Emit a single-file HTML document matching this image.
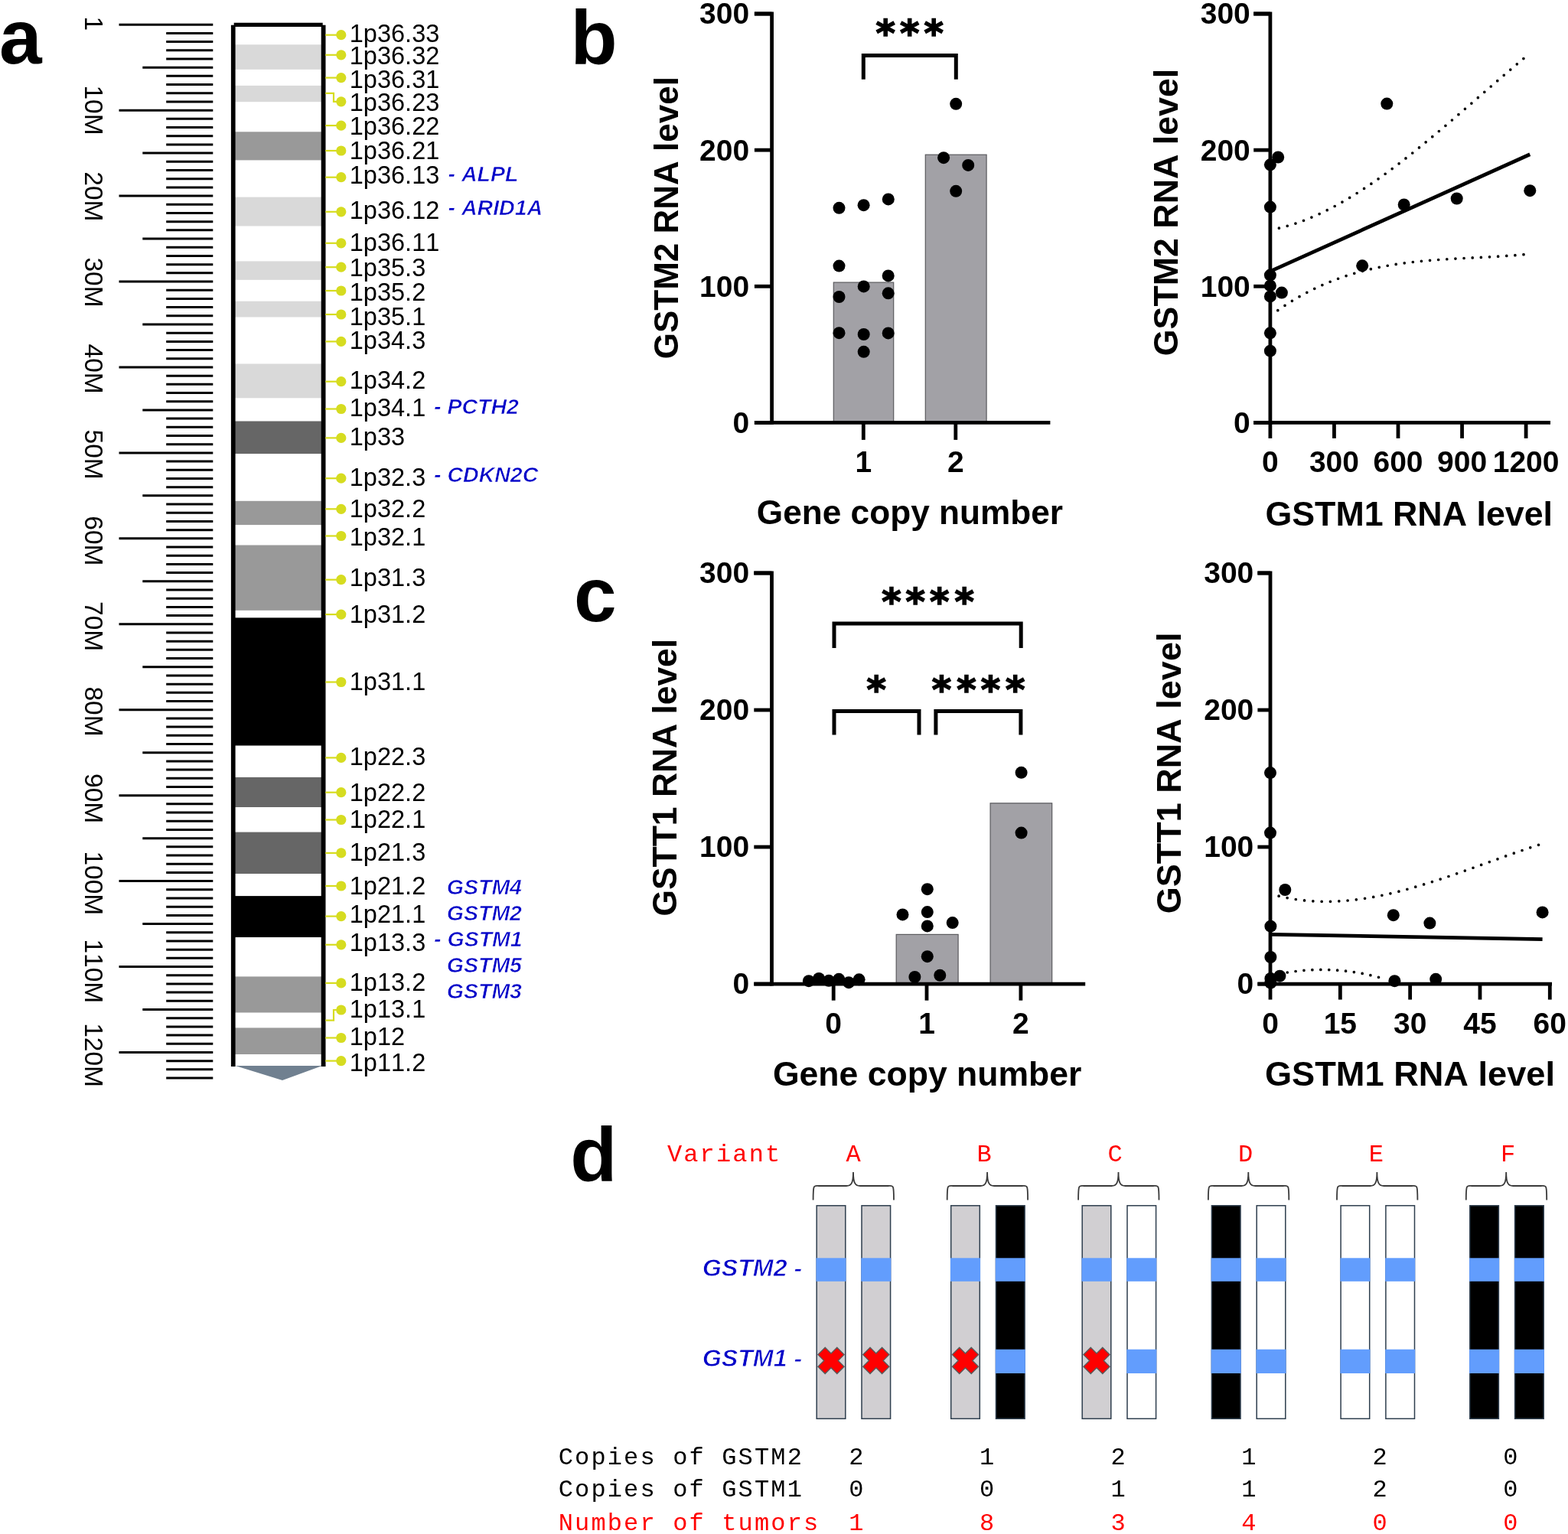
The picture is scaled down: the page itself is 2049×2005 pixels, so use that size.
<!DOCTYPE html>
<html><head><meta charset="utf-8"><title>Figure</title>
<style>html,body{margin:0;padding:0;background:#fff;} svg{display:block;} text{font-kerning:none;}</style></head>
<body><svg xmlns="http://www.w3.org/2000/svg" width="2049" height="2005" viewBox="0 0 2049 2005">
<rect width="2049" height="2005" fill="#fff"/>
<text x="-1.00" y="83.00" font-size="100" font-weight="bold" font-style="normal" text-anchor="start" fill="#000" font-family="'Liberation Sans', Arial, sans-serif" >a</text>
<line x1="155.50" y1="32.20" x2="278.30" y2="32.20" stroke="#000" stroke-width="3" stroke-linecap="butt" />
<line x1="217.20" y1="43.39" x2="278.30" y2="43.39" stroke="#000" stroke-width="3" stroke-linecap="butt" />
<line x1="217.20" y1="54.59" x2="278.30" y2="54.59" stroke="#000" stroke-width="3" stroke-linecap="butt" />
<line x1="217.20" y1="65.78" x2="278.30" y2="65.78" stroke="#000" stroke-width="3" stroke-linecap="butt" />
<line x1="217.20" y1="76.98" x2="278.30" y2="76.98" stroke="#000" stroke-width="3" stroke-linecap="butt" />
<line x1="186.30" y1="88.17" x2="278.30" y2="88.17" stroke="#000" stroke-width="3" stroke-linecap="butt" />
<line x1="217.20" y1="99.36" x2="278.30" y2="99.36" stroke="#000" stroke-width="3" stroke-linecap="butt" />
<line x1="217.20" y1="110.56" x2="278.30" y2="110.56" stroke="#000" stroke-width="3" stroke-linecap="butt" />
<line x1="217.20" y1="121.75" x2="278.30" y2="121.75" stroke="#000" stroke-width="3" stroke-linecap="butt" />
<line x1="217.20" y1="132.95" x2="278.30" y2="132.95" stroke="#000" stroke-width="3" stroke-linecap="butt" />
<line x1="155.50" y1="144.14" x2="278.30" y2="144.14" stroke="#000" stroke-width="3" stroke-linecap="butt" />
<line x1="217.20" y1="155.33" x2="278.30" y2="155.33" stroke="#000" stroke-width="3" stroke-linecap="butt" />
<line x1="217.20" y1="166.53" x2="278.30" y2="166.53" stroke="#000" stroke-width="3" stroke-linecap="butt" />
<line x1="217.20" y1="177.72" x2="278.30" y2="177.72" stroke="#000" stroke-width="3" stroke-linecap="butt" />
<line x1="217.20" y1="188.92" x2="278.30" y2="188.92" stroke="#000" stroke-width="3" stroke-linecap="butt" />
<line x1="186.30" y1="200.11" x2="278.30" y2="200.11" stroke="#000" stroke-width="3" stroke-linecap="butt" />
<line x1="217.20" y1="211.30" x2="278.30" y2="211.30" stroke="#000" stroke-width="3" stroke-linecap="butt" />
<line x1="217.20" y1="222.50" x2="278.30" y2="222.50" stroke="#000" stroke-width="3" stroke-linecap="butt" />
<line x1="217.20" y1="233.69" x2="278.30" y2="233.69" stroke="#000" stroke-width="3" stroke-linecap="butt" />
<line x1="217.20" y1="244.89" x2="278.30" y2="244.89" stroke="#000" stroke-width="3" stroke-linecap="butt" />
<line x1="155.50" y1="256.08" x2="278.30" y2="256.08" stroke="#000" stroke-width="3" stroke-linecap="butt" />
<line x1="217.20" y1="267.27" x2="278.30" y2="267.27" stroke="#000" stroke-width="3" stroke-linecap="butt" />
<line x1="217.20" y1="278.47" x2="278.30" y2="278.47" stroke="#000" stroke-width="3" stroke-linecap="butt" />
<line x1="217.20" y1="289.66" x2="278.30" y2="289.66" stroke="#000" stroke-width="3" stroke-linecap="butt" />
<line x1="217.20" y1="300.86" x2="278.30" y2="300.86" stroke="#000" stroke-width="3" stroke-linecap="butt" />
<line x1="186.30" y1="312.05" x2="278.30" y2="312.05" stroke="#000" stroke-width="3" stroke-linecap="butt" />
<line x1="217.20" y1="323.24" x2="278.30" y2="323.24" stroke="#000" stroke-width="3" stroke-linecap="butt" />
<line x1="217.20" y1="334.44" x2="278.30" y2="334.44" stroke="#000" stroke-width="3" stroke-linecap="butt" />
<line x1="217.20" y1="345.63" x2="278.30" y2="345.63" stroke="#000" stroke-width="3" stroke-linecap="butt" />
<line x1="217.20" y1="356.83" x2="278.30" y2="356.83" stroke="#000" stroke-width="3" stroke-linecap="butt" />
<line x1="155.50" y1="368.02" x2="278.30" y2="368.02" stroke="#000" stroke-width="3" stroke-linecap="butt" />
<line x1="217.20" y1="379.21" x2="278.30" y2="379.21" stroke="#000" stroke-width="3" stroke-linecap="butt" />
<line x1="217.20" y1="390.41" x2="278.30" y2="390.41" stroke="#000" stroke-width="3" stroke-linecap="butt" />
<line x1="217.20" y1="401.60" x2="278.30" y2="401.60" stroke="#000" stroke-width="3" stroke-linecap="butt" />
<line x1="217.20" y1="412.80" x2="278.30" y2="412.80" stroke="#000" stroke-width="3" stroke-linecap="butt" />
<line x1="186.30" y1="423.99" x2="278.30" y2="423.99" stroke="#000" stroke-width="3" stroke-linecap="butt" />
<line x1="217.20" y1="435.18" x2="278.30" y2="435.18" stroke="#000" stroke-width="3" stroke-linecap="butt" />
<line x1="217.20" y1="446.38" x2="278.30" y2="446.38" stroke="#000" stroke-width="3" stroke-linecap="butt" />
<line x1="217.20" y1="457.57" x2="278.30" y2="457.57" stroke="#000" stroke-width="3" stroke-linecap="butt" />
<line x1="217.20" y1="468.77" x2="278.30" y2="468.77" stroke="#000" stroke-width="3" stroke-linecap="butt" />
<line x1="155.50" y1="479.96" x2="278.30" y2="479.96" stroke="#000" stroke-width="3" stroke-linecap="butt" />
<line x1="217.20" y1="491.15" x2="278.30" y2="491.15" stroke="#000" stroke-width="3" stroke-linecap="butt" />
<line x1="217.20" y1="502.35" x2="278.30" y2="502.35" stroke="#000" stroke-width="3" stroke-linecap="butt" />
<line x1="217.20" y1="513.54" x2="278.30" y2="513.54" stroke="#000" stroke-width="3" stroke-linecap="butt" />
<line x1="217.20" y1="524.74" x2="278.30" y2="524.74" stroke="#000" stroke-width="3" stroke-linecap="butt" />
<line x1="186.30" y1="535.93" x2="278.30" y2="535.93" stroke="#000" stroke-width="3" stroke-linecap="butt" />
<line x1="217.20" y1="547.12" x2="278.30" y2="547.12" stroke="#000" stroke-width="3" stroke-linecap="butt" />
<line x1="217.20" y1="558.32" x2="278.30" y2="558.32" stroke="#000" stroke-width="3" stroke-linecap="butt" />
<line x1="217.20" y1="569.51" x2="278.30" y2="569.51" stroke="#000" stroke-width="3" stroke-linecap="butt" />
<line x1="217.20" y1="580.71" x2="278.30" y2="580.71" stroke="#000" stroke-width="3" stroke-linecap="butt" />
<line x1="155.50" y1="591.90" x2="278.30" y2="591.90" stroke="#000" stroke-width="3" stroke-linecap="butt" />
<line x1="217.20" y1="603.09" x2="278.30" y2="603.09" stroke="#000" stroke-width="3" stroke-linecap="butt" />
<line x1="217.20" y1="614.29" x2="278.30" y2="614.29" stroke="#000" stroke-width="3" stroke-linecap="butt" />
<line x1="217.20" y1="625.48" x2="278.30" y2="625.48" stroke="#000" stroke-width="3" stroke-linecap="butt" />
<line x1="217.20" y1="636.68" x2="278.30" y2="636.68" stroke="#000" stroke-width="3" stroke-linecap="butt" />
<line x1="186.30" y1="647.87" x2="278.30" y2="647.87" stroke="#000" stroke-width="3" stroke-linecap="butt" />
<line x1="217.20" y1="659.06" x2="278.30" y2="659.06" stroke="#000" stroke-width="3" stroke-linecap="butt" />
<line x1="217.20" y1="670.26" x2="278.30" y2="670.26" stroke="#000" stroke-width="3" stroke-linecap="butt" />
<line x1="217.20" y1="681.45" x2="278.30" y2="681.45" stroke="#000" stroke-width="3" stroke-linecap="butt" />
<line x1="217.20" y1="692.65" x2="278.30" y2="692.65" stroke="#000" stroke-width="3" stroke-linecap="butt" />
<line x1="155.50" y1="703.84" x2="278.30" y2="703.84" stroke="#000" stroke-width="3" stroke-linecap="butt" />
<line x1="217.20" y1="715.03" x2="278.30" y2="715.03" stroke="#000" stroke-width="3" stroke-linecap="butt" />
<line x1="217.20" y1="726.23" x2="278.30" y2="726.23" stroke="#000" stroke-width="3" stroke-linecap="butt" />
<line x1="217.20" y1="737.42" x2="278.30" y2="737.42" stroke="#000" stroke-width="3" stroke-linecap="butt" />
<line x1="217.20" y1="748.62" x2="278.30" y2="748.62" stroke="#000" stroke-width="3" stroke-linecap="butt" />
<line x1="186.30" y1="759.81" x2="278.30" y2="759.81" stroke="#000" stroke-width="3" stroke-linecap="butt" />
<line x1="217.20" y1="771.00" x2="278.30" y2="771.00" stroke="#000" stroke-width="3" stroke-linecap="butt" />
<line x1="217.20" y1="782.20" x2="278.30" y2="782.20" stroke="#000" stroke-width="3" stroke-linecap="butt" />
<line x1="217.20" y1="793.39" x2="278.30" y2="793.39" stroke="#000" stroke-width="3" stroke-linecap="butt" />
<line x1="217.20" y1="804.59" x2="278.30" y2="804.59" stroke="#000" stroke-width="3" stroke-linecap="butt" />
<line x1="155.50" y1="815.78" x2="278.30" y2="815.78" stroke="#000" stroke-width="3" stroke-linecap="butt" />
<line x1="217.20" y1="826.97" x2="278.30" y2="826.97" stroke="#000" stroke-width="3" stroke-linecap="butt" />
<line x1="217.20" y1="838.17" x2="278.30" y2="838.17" stroke="#000" stroke-width="3" stroke-linecap="butt" />
<line x1="217.20" y1="849.36" x2="278.30" y2="849.36" stroke="#000" stroke-width="3" stroke-linecap="butt" />
<line x1="217.20" y1="860.56" x2="278.30" y2="860.56" stroke="#000" stroke-width="3" stroke-linecap="butt" />
<line x1="186.30" y1="871.75" x2="278.30" y2="871.75" stroke="#000" stroke-width="3" stroke-linecap="butt" />
<line x1="217.20" y1="882.94" x2="278.30" y2="882.94" stroke="#000" stroke-width="3" stroke-linecap="butt" />
<line x1="217.20" y1="894.14" x2="278.30" y2="894.14" stroke="#000" stroke-width="3" stroke-linecap="butt" />
<line x1="217.20" y1="905.33" x2="278.30" y2="905.33" stroke="#000" stroke-width="3" stroke-linecap="butt" />
<line x1="217.20" y1="916.53" x2="278.30" y2="916.53" stroke="#000" stroke-width="3" stroke-linecap="butt" />
<line x1="155.50" y1="927.72" x2="278.30" y2="927.72" stroke="#000" stroke-width="3" stroke-linecap="butt" />
<line x1="217.20" y1="938.91" x2="278.30" y2="938.91" stroke="#000" stroke-width="3" stroke-linecap="butt" />
<line x1="217.20" y1="950.11" x2="278.30" y2="950.11" stroke="#000" stroke-width="3" stroke-linecap="butt" />
<line x1="217.20" y1="961.30" x2="278.30" y2="961.30" stroke="#000" stroke-width="3" stroke-linecap="butt" />
<line x1="217.20" y1="972.50" x2="278.30" y2="972.50" stroke="#000" stroke-width="3" stroke-linecap="butt" />
<line x1="186.30" y1="983.69" x2="278.30" y2="983.69" stroke="#000" stroke-width="3" stroke-linecap="butt" />
<line x1="217.20" y1="994.88" x2="278.30" y2="994.88" stroke="#000" stroke-width="3" stroke-linecap="butt" />
<line x1="217.20" y1="1006.08" x2="278.30" y2="1006.08" stroke="#000" stroke-width="3" stroke-linecap="butt" />
<line x1="217.20" y1="1017.27" x2="278.30" y2="1017.27" stroke="#000" stroke-width="3" stroke-linecap="butt" />
<line x1="217.20" y1="1028.47" x2="278.30" y2="1028.47" stroke="#000" stroke-width="3" stroke-linecap="butt" />
<line x1="155.50" y1="1039.66" x2="278.30" y2="1039.66" stroke="#000" stroke-width="3" stroke-linecap="butt" />
<line x1="217.20" y1="1050.85" x2="278.30" y2="1050.85" stroke="#000" stroke-width="3" stroke-linecap="butt" />
<line x1="217.20" y1="1062.05" x2="278.30" y2="1062.05" stroke="#000" stroke-width="3" stroke-linecap="butt" />
<line x1="217.20" y1="1073.24" x2="278.30" y2="1073.24" stroke="#000" stroke-width="3" stroke-linecap="butt" />
<line x1="217.20" y1="1084.44" x2="278.30" y2="1084.44" stroke="#000" stroke-width="3" stroke-linecap="butt" />
<line x1="186.30" y1="1095.63" x2="278.30" y2="1095.63" stroke="#000" stroke-width="3" stroke-linecap="butt" />
<line x1="217.20" y1="1106.82" x2="278.30" y2="1106.82" stroke="#000" stroke-width="3" stroke-linecap="butt" />
<line x1="217.20" y1="1118.02" x2="278.30" y2="1118.02" stroke="#000" stroke-width="3" stroke-linecap="butt" />
<line x1="217.20" y1="1129.21" x2="278.30" y2="1129.21" stroke="#000" stroke-width="3" stroke-linecap="butt" />
<line x1="217.20" y1="1140.41" x2="278.30" y2="1140.41" stroke="#000" stroke-width="3" stroke-linecap="butt" />
<line x1="155.50" y1="1151.60" x2="278.30" y2="1151.60" stroke="#000" stroke-width="3" stroke-linecap="butt" />
<line x1="217.20" y1="1162.79" x2="278.30" y2="1162.79" stroke="#000" stroke-width="3" stroke-linecap="butt" />
<line x1="217.20" y1="1173.99" x2="278.30" y2="1173.99" stroke="#000" stroke-width="3" stroke-linecap="butt" />
<line x1="217.20" y1="1185.18" x2="278.30" y2="1185.18" stroke="#000" stroke-width="3" stroke-linecap="butt" />
<line x1="217.20" y1="1196.38" x2="278.30" y2="1196.38" stroke="#000" stroke-width="3" stroke-linecap="butt" />
<line x1="186.30" y1="1207.57" x2="278.30" y2="1207.57" stroke="#000" stroke-width="3" stroke-linecap="butt" />
<line x1="217.20" y1="1218.76" x2="278.30" y2="1218.76" stroke="#000" stroke-width="3" stroke-linecap="butt" />
<line x1="217.20" y1="1229.96" x2="278.30" y2="1229.96" stroke="#000" stroke-width="3" stroke-linecap="butt" />
<line x1="217.20" y1="1241.15" x2="278.30" y2="1241.15" stroke="#000" stroke-width="3" stroke-linecap="butt" />
<line x1="217.20" y1="1252.35" x2="278.30" y2="1252.35" stroke="#000" stroke-width="3" stroke-linecap="butt" />
<line x1="155.50" y1="1263.54" x2="278.30" y2="1263.54" stroke="#000" stroke-width="3" stroke-linecap="butt" />
<line x1="217.20" y1="1274.73" x2="278.30" y2="1274.73" stroke="#000" stroke-width="3" stroke-linecap="butt" />
<line x1="217.20" y1="1285.93" x2="278.30" y2="1285.93" stroke="#000" stroke-width="3" stroke-linecap="butt" />
<line x1="217.20" y1="1297.12" x2="278.30" y2="1297.12" stroke="#000" stroke-width="3" stroke-linecap="butt" />
<line x1="217.20" y1="1308.32" x2="278.30" y2="1308.32" stroke="#000" stroke-width="3" stroke-linecap="butt" />
<line x1="186.30" y1="1319.51" x2="278.30" y2="1319.51" stroke="#000" stroke-width="3" stroke-linecap="butt" />
<line x1="217.20" y1="1330.70" x2="278.30" y2="1330.70" stroke="#000" stroke-width="3" stroke-linecap="butt" />
<line x1="217.20" y1="1341.90" x2="278.30" y2="1341.90" stroke="#000" stroke-width="3" stroke-linecap="butt" />
<line x1="217.20" y1="1353.09" x2="278.30" y2="1353.09" stroke="#000" stroke-width="3" stroke-linecap="butt" />
<line x1="217.20" y1="1364.29" x2="278.30" y2="1364.29" stroke="#000" stroke-width="3" stroke-linecap="butt" />
<line x1="155.50" y1="1375.48" x2="278.30" y2="1375.48" stroke="#000" stroke-width="3" stroke-linecap="butt" />
<line x1="217.20" y1="1386.67" x2="278.30" y2="1386.67" stroke="#000" stroke-width="3" stroke-linecap="butt" />
<line x1="217.20" y1="1397.87" x2="278.30" y2="1397.87" stroke="#000" stroke-width="3" stroke-linecap="butt" />
<line x1="217.20" y1="1409.06" x2="278.30" y2="1409.06" stroke="#000" stroke-width="3" stroke-linecap="butt" />
<text transform="translate(110.50,30.80) rotate(90)" font-size="33.5" font-weight="normal" text-anchor="middle" fill="#000" font-family="'Liberation Sans', Arial, sans-serif">1</text>
<text transform="translate(110.50,143.99) rotate(90)" font-size="33.5" font-weight="normal" text-anchor="middle" fill="#000" font-family="'Liberation Sans', Arial, sans-serif">10M</text>
<text transform="translate(110.50,256.88) rotate(90)" font-size="33.5" font-weight="normal" text-anchor="middle" fill="#000" font-family="'Liberation Sans', Arial, sans-serif">20M</text>
<text transform="translate(110.50,369.02) rotate(90)" font-size="33.5" font-weight="normal" text-anchor="middle" fill="#000" font-family="'Liberation Sans', Arial, sans-serif">30M</text>
<text transform="translate(110.50,482.16) rotate(90)" font-size="33.5" font-weight="normal" text-anchor="middle" fill="#000" font-family="'Liberation Sans', Arial, sans-serif">40M</text>
<text transform="translate(110.50,594.10) rotate(90)" font-size="33.5" font-weight="normal" text-anchor="middle" fill="#000" font-family="'Liberation Sans', Arial, sans-serif">50M</text>
<text transform="translate(110.50,706.84) rotate(90)" font-size="33.5" font-weight="normal" text-anchor="middle" fill="#000" font-family="'Liberation Sans', Arial, sans-serif">60M</text>
<text transform="translate(110.50,818.68) rotate(90)" font-size="33.5" font-weight="normal" text-anchor="middle" fill="#000" font-family="'Liberation Sans', Arial, sans-serif">70M</text>
<text transform="translate(110.50,930.02) rotate(90)" font-size="33.5" font-weight="normal" text-anchor="middle" fill="#000" font-family="'Liberation Sans', Arial, sans-serif">80M</text>
<text transform="translate(110.50,1043.66) rotate(90)" font-size="33.5" font-weight="normal" text-anchor="middle" fill="#000" font-family="'Liberation Sans', Arial, sans-serif">90M</text>
<text transform="translate(110.50,1154.35) rotate(90)" font-size="33.5" font-weight="normal" text-anchor="middle" fill="#000" font-family="'Liberation Sans', Arial, sans-serif">100M</text>
<text transform="translate(110.50,1269.29) rotate(90)" font-size="33.5" font-weight="normal" text-anchor="middle" fill="#000" font-family="'Liberation Sans', Arial, sans-serif">110M</text>
<text transform="translate(110.50,1379.08) rotate(90)" font-size="33.5" font-weight="normal" text-anchor="middle" fill="#000" font-family="'Liberation Sans', Arial, sans-serif">120M</text>
<rect x="305.00" y="35.00" width="117.60" height="23.31" fill="#ffffff" stroke="none" stroke-width="0" />
<rect x="305.00" y="58.30" width="117.60" height="32.61" fill="#d9d9d9" stroke="none" stroke-width="0" />
<rect x="305.00" y="90.90" width="117.60" height="21.01" fill="#ffffff" stroke="none" stroke-width="0" />
<rect x="305.00" y="111.90" width="117.60" height="21.51" fill="#d9d9d9" stroke="none" stroke-width="0" />
<rect x="305.00" y="133.40" width="117.60" height="38.91" fill="#ffffff" stroke="none" stroke-width="0" />
<rect x="305.00" y="172.30" width="117.60" height="37.31" fill="#999999" stroke="none" stroke-width="0" />
<rect x="305.00" y="209.60" width="117.60" height="48.01" fill="#ffffff" stroke="none" stroke-width="0" />
<rect x="305.00" y="257.60" width="117.60" height="38.11" fill="#d9d9d9" stroke="none" stroke-width="0" />
<rect x="305.00" y="295.70" width="117.60" height="45.71" fill="#ffffff" stroke="none" stroke-width="0" />
<rect x="305.00" y="341.40" width="117.60" height="24.51" fill="#d9d9d9" stroke="none" stroke-width="0" />
<rect x="305.00" y="365.90" width="117.60" height="27.81" fill="#ffffff" stroke="none" stroke-width="0" />
<rect x="305.00" y="393.70" width="117.60" height="21.01" fill="#d9d9d9" stroke="none" stroke-width="0" />
<rect x="305.00" y="414.70" width="117.60" height="60.81" fill="#ffffff" stroke="none" stroke-width="0" />
<rect x="305.00" y="475.50" width="117.60" height="45.01" fill="#d9d9d9" stroke="none" stroke-width="0" />
<rect x="305.00" y="520.50" width="117.60" height="30.01" fill="#ffffff" stroke="none" stroke-width="0" />
<rect x="305.00" y="550.50" width="117.60" height="42.81" fill="#666666" stroke="none" stroke-width="0" />
<rect x="305.00" y="593.30" width="117.60" height="61.51" fill="#ffffff" stroke="none" stroke-width="0" />
<rect x="305.00" y="654.80" width="117.60" height="31.51" fill="#999999" stroke="none" stroke-width="0" />
<rect x="305.00" y="686.30" width="117.60" height="26.21" fill="#ffffff" stroke="none" stroke-width="0" />
<rect x="305.00" y="712.50" width="117.60" height="85.41" fill="#999999" stroke="none" stroke-width="0" />
<rect x="305.00" y="797.90" width="117.60" height="9.51" fill="#ffffff" stroke="none" stroke-width="0" />
<rect x="305.00" y="807.40" width="117.60" height="167.31" fill="#000000" stroke="none" stroke-width="0" />
<rect x="305.00" y="974.70" width="117.60" height="41.21" fill="#ffffff" stroke="none" stroke-width="0" />
<rect x="305.00" y="1015.90" width="117.60" height="39.11" fill="#666666" stroke="none" stroke-width="0" />
<rect x="305.00" y="1055.00" width="117.60" height="32.61" fill="#ffffff" stroke="none" stroke-width="0" />
<rect x="305.00" y="1087.60" width="117.60" height="54.41" fill="#666666" stroke="none" stroke-width="0" />
<rect x="305.00" y="1142.00" width="117.60" height="29.11" fill="#ffffff" stroke="none" stroke-width="0" />
<rect x="305.00" y="1171.10" width="117.60" height="54.11" fill="#000000" stroke="none" stroke-width="0" />
<rect x="305.00" y="1225.20" width="117.60" height="51.21" fill="#ffffff" stroke="none" stroke-width="0" />
<rect x="305.00" y="1276.40" width="117.60" height="47.31" fill="#999999" stroke="none" stroke-width="0" />
<rect x="305.00" y="1323.70" width="117.60" height="19.71" fill="#ffffff" stroke="none" stroke-width="0" />
<rect x="305.00" y="1343.40" width="117.60" height="34.61" fill="#999999" stroke="none" stroke-width="0" />
<rect x="305.00" y="1378.00" width="117.60" height="15.01" fill="#ffffff" stroke="none" stroke-width="0" />
<polygon points="307.6,1393 421.0,1393 369,1412" fill="#708090"/>
<line x1="304.75" y1="32.70" x2="304.75" y2="1394.00" stroke="#000" stroke-width="5.7" stroke-linecap="butt" />
<line x1="422.60" y1="32.70" x2="422.60" y2="1394.00" stroke="#000" stroke-width="5.8" stroke-linecap="butt" />
<line x1="305.70" y1="32.40" x2="421.70" y2="32.40" stroke="#000" stroke-width="5.4" stroke-linecap="butt" />
<line x1="425.30" y1="45.70" x2="445.80" y2="45.70" stroke="#d6dc20" stroke-width="2.2" stroke-linecap="butt" />
<circle cx="445.80" cy="45.70" r="6.6" fill="#d6dc20"/>
<text x="456.80" y="54.70" font-size="32.5" font-weight="normal" font-style="normal" text-anchor="start" fill="#000" font-family="'Liberation Sans', Arial, sans-serif" >1p36.33</text>
<line x1="425.30" y1="71.80" x2="445.80" y2="71.80" stroke="#d6dc20" stroke-width="2.2" stroke-linecap="butt" />
<circle cx="445.80" cy="71.80" r="6.6" fill="#d6dc20"/>
<text x="456.80" y="83.80" font-size="32.5" font-weight="normal" font-style="normal" text-anchor="start" fill="#000" font-family="'Liberation Sans', Arial, sans-serif" >1p36.32</text>
<line x1="425.30" y1="101.60" x2="445.80" y2="101.60" stroke="#d6dc20" stroke-width="2.2" stroke-linecap="butt" />
<circle cx="445.80" cy="101.60" r="6.6" fill="#d6dc20"/>
<text x="456.80" y="115.00" font-size="32.5" font-weight="normal" font-style="normal" text-anchor="start" fill="#000" font-family="'Liberation Sans', Arial, sans-serif" >1p36.31</text>
<path d="M425.3,121.8 L436,121.8 L436,132.8 L445.8,132.8" stroke="#d6dc20" stroke-width="2.2" fill="none" />
<circle cx="445.80" cy="132.80" r="6.6" fill="#d6dc20"/>
<text x="456.80" y="144.80" font-size="32.5" font-weight="normal" font-style="normal" text-anchor="start" fill="#000" font-family="'Liberation Sans', Arial, sans-serif" >1p36.23</text>
<line x1="425.30" y1="164.10" x2="445.80" y2="164.10" stroke="#d6dc20" stroke-width="2.2" stroke-linecap="butt" />
<circle cx="445.80" cy="164.10" r="6.6" fill="#d6dc20"/>
<text x="456.80" y="176.30" font-size="32.5" font-weight="normal" font-style="normal" text-anchor="start" fill="#000" font-family="'Liberation Sans', Arial, sans-serif" >1p36.22</text>
<line x1="425.30" y1="197.00" x2="445.80" y2="197.00" stroke="#d6dc20" stroke-width="2.2" stroke-linecap="butt" />
<circle cx="445.80" cy="197.00" r="6.6" fill="#d6dc20"/>
<text x="456.80" y="207.90" font-size="32.5" font-weight="normal" font-style="normal" text-anchor="start" fill="#000" font-family="'Liberation Sans', Arial, sans-serif" >1p36.21</text>
<line x1="425.30" y1="231.70" x2="445.80" y2="231.70" stroke="#d6dc20" stroke-width="2.2" stroke-linecap="butt" />
<circle cx="445.80" cy="231.70" r="6.6" fill="#d6dc20"/>
<text x="456.80" y="240.40" font-size="32.5" font-weight="normal" font-style="normal" text-anchor="start" fill="#000" font-family="'Liberation Sans', Arial, sans-serif" >1p36.13</text>
<line x1="425.30" y1="276.80" x2="445.80" y2="276.80" stroke="#d6dc20" stroke-width="2.2" stroke-linecap="butt" />
<circle cx="445.80" cy="276.80" r="6.6" fill="#d6dc20"/>
<text x="456.80" y="285.70" font-size="32.5" font-weight="normal" font-style="normal" text-anchor="start" fill="#000" font-family="'Liberation Sans', Arial, sans-serif" >1p36.12</text>
<line x1="425.30" y1="317.80" x2="445.80" y2="317.80" stroke="#d6dc20" stroke-width="2.2" stroke-linecap="butt" />
<circle cx="445.80" cy="317.80" r="6.6" fill="#d6dc20"/>
<text x="456.80" y="328.10" font-size="32.5" font-weight="normal" font-style="normal" text-anchor="start" fill="#000" font-family="'Liberation Sans', Arial, sans-serif" >1p36.11</text>
<line x1="425.30" y1="349.20" x2="445.80" y2="349.20" stroke="#d6dc20" stroke-width="2.2" stroke-linecap="butt" />
<circle cx="445.80" cy="349.20" r="6.6" fill="#d6dc20"/>
<text x="456.80" y="361.10" font-size="32.5" font-weight="normal" font-style="normal" text-anchor="start" fill="#000" font-family="'Liberation Sans', Arial, sans-serif" >1p35.3</text>
<line x1="425.30" y1="380.00" x2="445.80" y2="380.00" stroke="#d6dc20" stroke-width="2.2" stroke-linecap="butt" />
<circle cx="445.80" cy="380.00" r="6.6" fill="#d6dc20"/>
<text x="456.80" y="392.50" font-size="32.5" font-weight="normal" font-style="normal" text-anchor="start" fill="#000" font-family="'Liberation Sans', Arial, sans-serif" >1p35.2</text>
<line x1="425.30" y1="411.00" x2="445.80" y2="411.00" stroke="#d6dc20" stroke-width="2.2" stroke-linecap="butt" />
<circle cx="445.80" cy="411.00" r="6.6" fill="#d6dc20"/>
<text x="456.80" y="424.50" font-size="32.5" font-weight="normal" font-style="normal" text-anchor="start" fill="#000" font-family="'Liberation Sans', Arial, sans-serif" >1p35.1</text>
<line x1="425.30" y1="446.40" x2="445.80" y2="446.40" stroke="#d6dc20" stroke-width="2.2" stroke-linecap="butt" />
<circle cx="445.80" cy="446.40" r="6.6" fill="#d6dc20"/>
<text x="456.80" y="456.30" font-size="32.5" font-weight="normal" font-style="normal" text-anchor="start" fill="#000" font-family="'Liberation Sans', Arial, sans-serif" >1p34.3</text>
<line x1="425.30" y1="498.70" x2="445.80" y2="498.70" stroke="#d6dc20" stroke-width="2.2" stroke-linecap="butt" />
<circle cx="445.80" cy="498.70" r="6.6" fill="#d6dc20"/>
<text x="456.80" y="508.20" font-size="32.5" font-weight="normal" font-style="normal" text-anchor="start" fill="#000" font-family="'Liberation Sans', Arial, sans-serif" >1p34.2</text>
<line x1="425.30" y1="534.50" x2="445.80" y2="534.50" stroke="#d6dc20" stroke-width="2.2" stroke-linecap="butt" />
<circle cx="445.80" cy="534.50" r="6.6" fill="#d6dc20"/>
<text x="456.80" y="544.40" font-size="32.5" font-weight="normal" font-style="normal" text-anchor="start" fill="#000" font-family="'Liberation Sans', Arial, sans-serif" >1p34.1</text>
<line x1="425.30" y1="572.40" x2="445.80" y2="572.40" stroke="#d6dc20" stroke-width="2.2" stroke-linecap="butt" />
<circle cx="445.80" cy="572.40" r="6.6" fill="#d6dc20"/>
<text x="456.80" y="582.00" font-size="32.5" font-weight="normal" font-style="normal" text-anchor="start" fill="#000" font-family="'Liberation Sans', Arial, sans-serif" >1p33</text>
<line x1="425.30" y1="625.20" x2="445.80" y2="625.20" stroke="#d6dc20" stroke-width="2.2" stroke-linecap="butt" />
<circle cx="445.80" cy="625.20" r="6.6" fill="#d6dc20"/>
<text x="456.80" y="635.10" font-size="32.5" font-weight="normal" font-style="normal" text-anchor="start" fill="#000" font-family="'Liberation Sans', Arial, sans-serif" >1p32.3</text>
<line x1="425.30" y1="665.30" x2="445.80" y2="665.30" stroke="#d6dc20" stroke-width="2.2" stroke-linecap="butt" />
<circle cx="445.80" cy="665.30" r="6.6" fill="#d6dc20"/>
<text x="456.80" y="675.80" font-size="32.5" font-weight="normal" font-style="normal" text-anchor="start" fill="#000" font-family="'Liberation Sans', Arial, sans-serif" >1p32.2</text>
<line x1="425.30" y1="700.50" x2="445.80" y2="700.50" stroke="#d6dc20" stroke-width="2.2" stroke-linecap="butt" />
<circle cx="445.80" cy="700.50" r="6.6" fill="#d6dc20"/>
<text x="456.80" y="712.90" font-size="32.5" font-weight="normal" font-style="normal" text-anchor="start" fill="#000" font-family="'Liberation Sans', Arial, sans-serif" >1p32.1</text>
<line x1="425.30" y1="757.70" x2="445.80" y2="757.70" stroke="#d6dc20" stroke-width="2.2" stroke-linecap="butt" />
<circle cx="445.80" cy="757.70" r="6.6" fill="#d6dc20"/>
<text x="456.80" y="766.20" font-size="32.5" font-weight="normal" font-style="normal" text-anchor="start" fill="#000" font-family="'Liberation Sans', Arial, sans-serif" >1p31.3</text>
<line x1="425.30" y1="803.10" x2="445.80" y2="803.10" stroke="#d6dc20" stroke-width="2.2" stroke-linecap="butt" />
<circle cx="445.80" cy="803.10" r="6.6" fill="#d6dc20"/>
<text x="456.80" y="814.00" font-size="32.5" font-weight="normal" font-style="normal" text-anchor="start" fill="#000" font-family="'Liberation Sans', Arial, sans-serif" >1p31.2</text>
<line x1="425.30" y1="891.50" x2="445.80" y2="891.50" stroke="#d6dc20" stroke-width="2.2" stroke-linecap="butt" />
<circle cx="445.80" cy="891.50" r="6.6" fill="#d6dc20"/>
<text x="456.80" y="901.90" font-size="32.5" font-weight="normal" font-style="normal" text-anchor="start" fill="#000" font-family="'Liberation Sans', Arial, sans-serif" >1p31.1</text>
<line x1="425.30" y1="990.40" x2="445.80" y2="990.40" stroke="#d6dc20" stroke-width="2.2" stroke-linecap="butt" />
<circle cx="445.80" cy="990.40" r="6.6" fill="#d6dc20"/>
<text x="456.80" y="1000.20" font-size="32.5" font-weight="normal" font-style="normal" text-anchor="start" fill="#000" font-family="'Liberation Sans', Arial, sans-serif" >1p22.3</text>
<line x1="425.30" y1="1035.70" x2="445.80" y2="1035.70" stroke="#d6dc20" stroke-width="2.2" stroke-linecap="butt" />
<circle cx="445.80" cy="1035.70" r="6.6" fill="#d6dc20"/>
<text x="456.80" y="1046.60" font-size="32.5" font-weight="normal" font-style="normal" text-anchor="start" fill="#000" font-family="'Liberation Sans', Arial, sans-serif" >1p22.2</text>
<line x1="425.30" y1="1071.50" x2="445.80" y2="1071.50" stroke="#d6dc20" stroke-width="2.2" stroke-linecap="butt" />
<circle cx="445.80" cy="1071.50" r="6.6" fill="#d6dc20"/>
<text x="456.80" y="1082.10" font-size="32.5" font-weight="normal" font-style="normal" text-anchor="start" fill="#000" font-family="'Liberation Sans', Arial, sans-serif" >1p22.1</text>
<line x1="425.30" y1="1114.90" x2="445.80" y2="1114.90" stroke="#d6dc20" stroke-width="2.2" stroke-linecap="butt" />
<circle cx="445.80" cy="1114.90" r="6.6" fill="#d6dc20"/>
<text x="456.80" y="1125.20" font-size="32.5" font-weight="normal" font-style="normal" text-anchor="start" fill="#000" font-family="'Liberation Sans', Arial, sans-serif" >1p21.3</text>
<line x1="425.30" y1="1158.00" x2="445.80" y2="1158.00" stroke="#d6dc20" stroke-width="2.2" stroke-linecap="butt" />
<circle cx="445.80" cy="1158.00" r="6.6" fill="#d6dc20"/>
<text x="456.80" y="1168.50" font-size="32.5" font-weight="normal" font-style="normal" text-anchor="start" fill="#000" font-family="'Liberation Sans', Arial, sans-serif" >1p21.2</text>
<line x1="425.30" y1="1197.60" x2="445.80" y2="1197.60" stroke="#d6dc20" stroke-width="2.2" stroke-linecap="butt" />
<circle cx="445.80" cy="1197.60" r="6.6" fill="#d6dc20"/>
<text x="456.80" y="1205.90" font-size="32.5" font-weight="normal" font-style="normal" text-anchor="start" fill="#000" font-family="'Liberation Sans', Arial, sans-serif" >1p21.1</text>
<line x1="425.30" y1="1234.80" x2="445.80" y2="1234.80" stroke="#d6dc20" stroke-width="2.2" stroke-linecap="butt" />
<circle cx="445.80" cy="1234.80" r="6.6" fill="#d6dc20"/>
<text x="456.80" y="1243.40" font-size="32.5" font-weight="normal" font-style="normal" text-anchor="start" fill="#000" font-family="'Liberation Sans', Arial, sans-serif" >1p13.3</text>
<line x1="425.30" y1="1284.90" x2="445.80" y2="1284.90" stroke="#d6dc20" stroke-width="2.2" stroke-linecap="butt" />
<circle cx="445.80" cy="1284.90" r="6.6" fill="#d6dc20"/>
<text x="456.80" y="1295.40" font-size="32.5" font-weight="normal" font-style="normal" text-anchor="start" fill="#000" font-family="'Liberation Sans', Arial, sans-serif" >1p13.2</text>
<path d="M425.3,1333.6 L436,1333.6 L436,1320.0 L445.8,1320.0" stroke="#d6dc20" stroke-width="2.2" fill="none" />
<circle cx="445.80" cy="1320.00" r="6.6" fill="#d6dc20"/>
<text x="456.80" y="1330.00" font-size="32.5" font-weight="normal" font-style="normal" text-anchor="start" fill="#000" font-family="'Liberation Sans', Arial, sans-serif" >1p13.1</text>
<line x1="425.30" y1="1356.50" x2="445.80" y2="1356.50" stroke="#d6dc20" stroke-width="2.2" stroke-linecap="butt" />
<circle cx="445.80" cy="1356.50" r="6.6" fill="#d6dc20"/>
<text x="456.80" y="1365.50" font-size="32.5" font-weight="normal" font-style="normal" text-anchor="start" fill="#000" font-family="'Liberation Sans', Arial, sans-serif" >1p12</text>
<line x1="425.30" y1="1386.60" x2="445.80" y2="1386.60" stroke="#d6dc20" stroke-width="2.2" stroke-linecap="butt" />
<circle cx="445.80" cy="1386.60" r="6.6" fill="#d6dc20"/>
<text x="456.80" y="1399.90" font-size="32.5" font-weight="normal" font-style="normal" text-anchor="start" fill="#000" font-family="'Liberation Sans', Arial, sans-serif" >1p11.2</text>
<text x="585.60" y="237.00" font-size="28.5" font-weight="bold" font-style="italic" text-anchor="start" fill="#0000c8" font-family="'Liberation Sans', Arial, sans-serif" stroke="#fff" stroke-width="0.7">- ALPL</text>
<text x="585.60" y="281.00" font-size="28.5" font-weight="bold" font-style="italic" text-anchor="start" fill="#0000c8" font-family="'Liberation Sans', Arial, sans-serif" stroke="#fff" stroke-width="0.7">- ARID1A</text>
<text x="567.10" y="541.00" font-size="28.5" font-weight="bold" font-style="italic" text-anchor="start" fill="#0000c8" font-family="'Liberation Sans', Arial, sans-serif" stroke="#fff" stroke-width="0.7">- PCTH2</text>
<text x="567.10" y="630.30" font-size="28.5" font-weight="bold" font-style="italic" text-anchor="start" fill="#0000c8" font-family="'Liberation Sans', Arial, sans-serif" stroke="#fff" stroke-width="0.7">- CDKN2C</text>
<text x="567.10" y="1236.80" font-size="28.5" font-weight="bold" font-style="italic" text-anchor="start" fill="#0000c8" font-family="'Liberation Sans', Arial, sans-serif" stroke="#fff" stroke-width="0.7">- GSTM1</text>
<text x="583.80" y="1168.80" font-size="28.5" font-weight="bold" font-style="italic" text-anchor="start" fill="#0000c8" font-family="'Liberation Sans', Arial, sans-serif" stroke="#fff" stroke-width="0.7">GSTM4</text>
<text x="583.80" y="1203.00" font-size="28.5" font-weight="bold" font-style="italic" text-anchor="start" fill="#0000c8" font-family="'Liberation Sans', Arial, sans-serif" stroke="#fff" stroke-width="0.7">GSTM2</text>
<text x="583.80" y="1271.30" font-size="28.5" font-weight="bold" font-style="italic" text-anchor="start" fill="#0000c8" font-family="'Liberation Sans', Arial, sans-serif" stroke="#fff" stroke-width="0.7">GSTM5</text>
<text x="583.80" y="1305.40" font-size="28.5" font-weight="bold" font-style="italic" text-anchor="start" fill="#0000c8" font-family="'Liberation Sans', Arial, sans-serif" stroke="#fff" stroke-width="0.7">GSTM3</text>
<text x="745.50" y="83.50" font-size="100" font-weight="bold" font-style="normal" text-anchor="start" fill="#000" font-family="'Liberation Sans', Arial, sans-serif" >b</text>
<rect x="1089.30" y="369.10" width="78.40" height="183.30" fill="#a2a1a6" stroke="#5a5a5e" stroke-width="1.2" />
<rect x="1209.30" y="202.20" width="79.80" height="350.20" fill="#a2a1a6" stroke="#5a5a5e" stroke-width="1.2" />
<path d="M985.9,18.00999999999999 L1008.6,18.00999999999999 L1008.6,554.8" stroke="#000" stroke-width="4.8" fill="none" stroke-linejoin="miter"/>
<line x1="985.90" y1="552.40" x2="1008.60" y2="552.40" stroke="#000" stroke-width="4.8" stroke-linecap="butt" />
<text x="979.20" y="565.80" font-size="39" font-weight="bold" font-style="normal" text-anchor="end" fill="#000" font-family="'Liberation Sans', Arial, sans-serif" >0</text>
<line x1="985.90" y1="374.27" x2="1008.60" y2="374.27" stroke="#000" stroke-width="4.8" stroke-linecap="butt" />
<text x="979.20" y="387.67" font-size="39" font-weight="bold" font-style="normal" text-anchor="end" fill="#000" font-family="'Liberation Sans', Arial, sans-serif" >100</text>
<line x1="985.90" y1="196.14" x2="1008.60" y2="196.14" stroke="#000" stroke-width="4.8" stroke-linecap="butt" />
<text x="979.20" y="209.54" font-size="39" font-weight="bold" font-style="normal" text-anchor="end" fill="#000" font-family="'Liberation Sans', Arial, sans-serif" >200</text>
<line x1="985.90" y1="18.01" x2="1008.60" y2="18.01" stroke="#000" stroke-width="4.8" stroke-linecap="butt" />
<text x="979.20" y="31.41" font-size="39" font-weight="bold" font-style="normal" text-anchor="end" fill="#000" font-family="'Liberation Sans', Arial, sans-serif" >300</text>
<line x1="985.90" y1="552.40" x2="1372.40" y2="552.40" stroke="#000" stroke-width="4.8" stroke-linecap="butt" />
<line x1="1128.30" y1="552.40" x2="1128.30" y2="574.90" stroke="#000" stroke-width="4.8" stroke-linecap="butt" />
<text x="1128.30" y="616.80" font-size="39" font-weight="bold" font-style="normal" text-anchor="middle" fill="#000" font-family="'Liberation Sans', Arial, sans-serif" >1</text>
<line x1="1248.80" y1="552.40" x2="1248.80" y2="574.90" stroke="#000" stroke-width="4.8" stroke-linecap="butt" />
<text x="1248.80" y="616.80" font-size="39" font-weight="bold" font-style="normal" text-anchor="middle" fill="#000" font-family="'Liberation Sans', Arial, sans-serif" >2</text>
<circle cx="1096.50" cy="271.80" r="8.0" fill="#000"/>
<circle cx="1128.60" cy="268.20" r="8.0" fill="#000"/>
<circle cx="1160.80" cy="260.40" r="8.0" fill="#000"/>
<circle cx="1096.50" cy="347.60" r="8.0" fill="#000"/>
<circle cx="1160.70" cy="360.40" r="8.0" fill="#000"/>
<circle cx="1128.70" cy="374.40" r="8.0" fill="#000"/>
<circle cx="1096.50" cy="388.00" r="8.0" fill="#000"/>
<circle cx="1160.70" cy="383.30" r="8.0" fill="#000"/>
<circle cx="1096.50" cy="435.20" r="8.0" fill="#000"/>
<circle cx="1128.70" cy="437.00" r="8.0" fill="#000"/>
<circle cx="1160.70" cy="435.40" r="8.0" fill="#000"/>
<circle cx="1128.70" cy="459.80" r="8.0" fill="#000"/>
<circle cx="1249.20" cy="135.80" r="8.0" fill="#000"/>
<circle cx="1233.10" cy="206.20" r="8.0" fill="#000"/>
<circle cx="1265.20" cy="215.90" r="8.0" fill="#000"/>
<circle cx="1249.20" cy="249.80" r="8.0" fill="#000"/>
<path d="M1128.3,103.7 L1128.3,72.6 L1249.3,72.6 L1249.3,103.7" stroke="#000" stroke-width="5" fill="none" stroke-linejoin="miter"/>
<text x="1157.20 1188.60 1220.20" y="60.30" font-size="48.5" font-weight="bold" font-family="'DejaVu Sans', sans-serif" text-anchor="middle" stroke="#000" stroke-width="1.6" stroke-linejoin="miter">***</text>
<text transform="translate(885.90,284.70) rotate(-90)" font-size="44.0" font-weight="bold" text-anchor="middle" fill="#000" font-family="'Liberation Sans', Arial, sans-serif">GSTM2 RNA level</text>
<text x="1188.90" y="685.30" font-size="44.2" font-weight="bold" font-style="normal" text-anchor="middle" fill="#000" font-family="'Liberation Sans', Arial, sans-serif" >Gene copy number</text>
<path d="M1638.2,18.00999999999999 L1659.9,18.00999999999999 L1659.9,554.8" stroke="#000" stroke-width="4.8" fill="none" stroke-linejoin="miter"/>
<line x1="1638.20" y1="552.40" x2="1659.90" y2="552.40" stroke="#000" stroke-width="4.8" stroke-linecap="butt" />
<text x="1633.80" y="565.80" font-size="39" font-weight="bold" font-style="normal" text-anchor="end" fill="#000" font-family="'Liberation Sans', Arial, sans-serif" >0</text>
<line x1="1638.20" y1="374.27" x2="1659.90" y2="374.27" stroke="#000" stroke-width="4.8" stroke-linecap="butt" />
<text x="1633.80" y="387.67" font-size="39" font-weight="bold" font-style="normal" text-anchor="end" fill="#000" font-family="'Liberation Sans', Arial, sans-serif" >100</text>
<line x1="1638.20" y1="196.14" x2="1659.90" y2="196.14" stroke="#000" stroke-width="4.8" stroke-linecap="butt" />
<text x="1633.80" y="209.54" font-size="39" font-weight="bold" font-style="normal" text-anchor="end" fill="#000" font-family="'Liberation Sans', Arial, sans-serif" >200</text>
<line x1="1638.20" y1="18.01" x2="1659.90" y2="18.01" stroke="#000" stroke-width="4.8" stroke-linecap="butt" />
<text x="1633.80" y="31.41" font-size="39" font-weight="bold" font-style="normal" text-anchor="end" fill="#000" font-family="'Liberation Sans', Arial, sans-serif" >300</text>
<line x1="1638.20" y1="552.40" x2="2026.00" y2="552.40" stroke="#000" stroke-width="4.8" stroke-linecap="butt" />
<line x1="1659.90" y1="552.40" x2="1659.90" y2="572.90" stroke="#000" stroke-width="4.8" stroke-linecap="butt" />
<text x="1659.90" y="616.80" font-size="39" font-weight="bold" font-style="normal" text-anchor="middle" fill="#000" font-family="'Liberation Sans', Arial, sans-serif" >0</text>
<line x1="1743.45" y1="552.40" x2="1743.45" y2="572.90" stroke="#000" stroke-width="4.8" stroke-linecap="butt" />
<text x="1743.45" y="616.80" font-size="39" font-weight="bold" font-style="normal" text-anchor="middle" fill="#000" font-family="'Liberation Sans', Arial, sans-serif" >300</text>
<line x1="1827.00" y1="552.40" x2="1827.00" y2="572.90" stroke="#000" stroke-width="4.8" stroke-linecap="butt" />
<text x="1827.00" y="616.80" font-size="39" font-weight="bold" font-style="normal" text-anchor="middle" fill="#000" font-family="'Liberation Sans', Arial, sans-serif" >600</text>
<line x1="1910.55" y1="552.40" x2="1910.55" y2="572.90" stroke="#000" stroke-width="4.8" stroke-linecap="butt" />
<text x="1910.55" y="616.80" font-size="39" font-weight="bold" font-style="normal" text-anchor="middle" fill="#000" font-family="'Liberation Sans', Arial, sans-serif" >900</text>
<line x1="1994.10" y1="552.40" x2="1994.10" y2="572.90" stroke="#000" stroke-width="4.8" stroke-linecap="butt" />
<text x="1994.10" y="616.80" font-size="39" font-weight="bold" font-style="normal" text-anchor="middle" fill="#000" font-family="'Liberation Sans', Arial, sans-serif" >1200</text>
<text transform="translate(1538.90,277.50) rotate(-90)" font-size="44.76" font-weight="bold" text-anchor="middle" fill="#000" font-family="'Liberation Sans', Arial, sans-serif">GSTM2 RNA level</text>
<text x="1841.20" y="686.80" font-size="44.78" font-weight="bold" font-style="normal" text-anchor="middle" fill="#000" font-family="'Liberation Sans', Arial, sans-serif" >GSTM1 RNA level</text>
<path d="M1671.40,298.17 L1674.16,297.51 L1676.91,296.82 L1679.67,296.08 L1682.43,295.31 L1685.19,294.51 L1687.94,293.67 L1690.70,292.79 L1693.46,291.89 L1696.21,290.94 L1698.97,289.97 L1701.73,288.96 L1704.49,287.91 L1707.24,286.84 L1710.00,285.73 L1712.76,284.60 L1715.51,283.43 L1718.27,282.23 L1721.03,281.00 L1723.79,279.74 L1726.54,278.45 L1729.30,277.13 L1732.06,275.78 L1734.81,274.40 L1737.57,273.00 L1740.33,271.57 L1743.09,270.11 L1745.84,268.62 L1748.60,267.11 L1751.36,265.57 L1754.11,264.01 L1756.87,262.42 L1759.63,260.80 L1762.39,259.16 L1765.14,257.50 L1767.90,255.81 L1770.66,254.10 L1773.41,252.37 L1776.17,250.61 L1778.93,248.84 L1781.69,247.04 L1784.44,245.21 L1787.20,243.37 L1789.96,241.51 L1792.71,239.63 L1795.47,237.72 L1798.23,235.80 L1800.99,233.86 L1803.74,231.90 L1806.50,229.92 L1809.26,227.93 L1812.01,225.91 L1814.77,223.88 L1817.53,221.84 L1820.29,219.77 L1823.04,217.69 L1825.80,215.60 L1828.56,213.49 L1831.31,211.37 L1834.07,209.23 L1836.83,207.07 L1839.59,204.91 L1842.34,202.73 L1845.10,200.53 L1847.86,198.33 L1850.61,196.11 L1853.37,193.88 L1856.13,191.64 L1858.89,189.39 L1861.64,187.13 L1864.40,184.86 L1867.16,182.58 L1869.91,180.29 L1872.67,177.99 L1875.43,175.69 L1878.19,173.37 L1880.94,171.05 L1883.70,168.72 L1886.46,166.38 L1889.21,164.04 L1891.97,161.69 L1894.73,159.33 L1897.49,156.97 L1900.24,154.61 L1903.00,152.24 L1905.76,149.86 L1908.51,147.48 L1911.27,145.10 L1914.03,142.72 L1916.79,140.33 L1919.54,137.94 L1922.30,135.55 L1925.06,133.16 L1927.81,130.76 L1930.57,128.37 L1933.33,125.97 L1936.09,123.58 L1938.84,121.18 L1941.60,118.79 L1944.36,116.40 L1947.11,114.01 L1949.87,111.62 L1952.63,109.23 L1955.39,106.85 L1958.14,104.47 L1960.90,102.10 L1963.66,99.73 L1966.41,97.36 L1969.17,95.00 L1971.93,92.64 L1974.69,90.29 L1977.44,87.94 L1980.20,85.60 L1982.96,83.27 L1985.71,80.94 L1988.47,78.63 L1991.23,76.32 L1993.99,74.01 L1996.74,71.72 L1999.50,69.44" stroke="#000" stroke-width="3.7" fill="none" stroke-linecap="round" stroke-dasharray="0 11.2059"/>
<path d="M1669.80,405.64 L1672.50,403.75 L1675.20,401.89 L1677.90,400.08 L1680.60,398.30 L1683.30,396.56 L1685.99,394.85 L1688.69,393.17 L1691.39,391.54 L1694.09,389.93 L1696.79,388.36 L1699.49,386.82 L1702.19,385.32 L1704.89,383.85 L1707.59,382.41 L1710.29,381.00 L1712.99,379.63 L1715.69,378.29 L1718.38,376.97 L1721.08,375.69 L1723.78,374.44 L1726.48,373.21 L1729.18,372.02 L1731.88,370.85 L1734.58,369.72 L1737.28,368.61 L1739.98,367.53 L1742.68,366.47 L1745.38,365.44 L1748.08,364.44 L1750.77,363.47 L1753.47,362.52 L1756.17,361.59 L1758.87,360.69 L1761.57,359.82 L1764.27,358.97 L1766.97,358.14 L1769.67,357.33 L1772.37,356.55 L1775.07,355.79 L1777.77,355.06 L1780.47,354.34 L1783.16,353.65 L1785.86,352.97 L1788.56,352.32 L1791.26,351.69 L1793.96,351.07 L1796.66,350.48 L1799.36,349.90 L1802.06,349.35 L1804.76,348.81 L1807.46,348.29 L1810.16,347.78 L1812.86,347.30 L1815.55,346.83 L1818.25,346.37 L1820.95,345.93 L1823.65,345.51 L1826.35,345.10 L1829.05,344.71 L1831.75,344.33 L1834.45,343.96 L1837.15,343.61 L1839.85,343.27 L1842.55,342.94 L1845.25,342.63 L1847.94,342.32 L1850.64,342.03 L1853.34,341.75 L1856.04,341.48 L1858.74,341.22 L1861.44,340.97 L1864.14,340.73 L1866.84,340.50 L1869.54,340.27 L1872.24,340.06 L1874.94,339.85 L1877.64,339.65 L1880.33,339.46 L1883.03,339.27 L1885.73,339.09 L1888.43,338.91 L1891.13,338.74 L1893.83,338.58 L1896.53,338.42 L1899.23,338.27 L1901.93,338.11 L1904.63,337.97 L1907.33,337.82 L1910.03,337.68 L1912.72,337.54 L1915.42,337.40 L1918.12,337.26 L1920.82,337.13 L1923.52,336.99 L1926.22,336.86 L1928.92,336.72 L1931.62,336.59 L1934.32,336.45 L1937.02,336.31 L1939.72,336.17 L1942.42,336.03 L1945.11,335.89 L1947.81,335.74 L1950.51,335.59 L1953.21,335.44 L1955.91,335.28 L1958.61,335.12 L1961.31,334.95 L1964.01,334.78 L1966.71,334.60 L1969.41,334.41 L1972.11,334.22 L1974.81,334.03 L1977.50,333.82 L1980.20,333.61 L1982.90,333.39 L1985.60,333.16 L1988.30,332.92 L1991.00,332.67" stroke="#000" stroke-width="3.7" fill="none" stroke-linecap="round" stroke-dasharray="0 11.1553"/>
<line x1="1661.60" y1="353.90" x2="1999.30" y2="201.80" stroke="#000" stroke-width="4.8" stroke-linecap="butt" />
<circle cx="1812.30" cy="135.60" r="8.0" fill="#000"/>
<circle cx="1670.20" cy="205.50" r="8.0" fill="#000"/>
<circle cx="1659.90" cy="215.30" r="8.0" fill="#000"/>
<circle cx="1659.90" cy="270.60" r="8.0" fill="#000"/>
<circle cx="1834.70" cy="267.50" r="8.0" fill="#000"/>
<circle cx="1903.70" cy="259.50" r="8.0" fill="#000"/>
<circle cx="1999.30" cy="249.20" r="8.0" fill="#000"/>
<circle cx="1780.20" cy="347.30" r="8.0" fill="#000"/>
<circle cx="1659.90" cy="359.60" r="8.0" fill="#000"/>
<circle cx="1659.90" cy="373.40" r="8.0" fill="#000"/>
<circle cx="1674.90" cy="382.60" r="8.0" fill="#000"/>
<circle cx="1659.90" cy="387.40" r="8.0" fill="#000"/>
<circle cx="1659.90" cy="435.30" r="8.0" fill="#000"/>
<circle cx="1659.90" cy="458.70" r="8.0" fill="#000"/>
<text x="750.10" y="812.30" font-size="100" font-weight="bold" font-style="normal" text-anchor="start" fill="#000" font-family="'Liberation Sans', Arial, sans-serif" >c</text>
<rect x="1171.20" y="1221.40" width="80.90" height="64.65" fill="#a2a1a6" stroke="#5a5a5e" stroke-width="1.2" />
<rect x="1294.10" y="1049.80" width="80.60" height="236.25" fill="#a2a1a6" stroke="#5a5a5e" stroke-width="1.2" />
<path d="M985.3,748.9899999999999 L1008.5,748.9899999999999 L1008.5,1288.45" stroke="#000" stroke-width="4.8" fill="none" stroke-linejoin="miter"/>
<line x1="985.30" y1="1286.05" x2="1008.50" y2="1286.05" stroke="#000" stroke-width="4.8" stroke-linecap="butt" />
<text x="979.20" y="1299.45" font-size="39" font-weight="bold" font-style="normal" text-anchor="end" fill="#000" font-family="'Liberation Sans', Arial, sans-serif" >0</text>
<line x1="985.30" y1="1107.03" x2="1008.50" y2="1107.03" stroke="#000" stroke-width="4.8" stroke-linecap="butt" />
<text x="979.20" y="1120.43" font-size="39" font-weight="bold" font-style="normal" text-anchor="end" fill="#000" font-family="'Liberation Sans', Arial, sans-serif" >100</text>
<line x1="985.30" y1="928.01" x2="1008.50" y2="928.01" stroke="#000" stroke-width="4.8" stroke-linecap="butt" />
<text x="979.20" y="941.41" font-size="39" font-weight="bold" font-style="normal" text-anchor="end" fill="#000" font-family="'Liberation Sans', Arial, sans-serif" >200</text>
<line x1="985.30" y1="748.99" x2="1008.50" y2="748.99" stroke="#000" stroke-width="4.8" stroke-linecap="butt" />
<text x="979.20" y="762.39" font-size="39" font-weight="bold" font-style="normal" text-anchor="end" fill="#000" font-family="'Liberation Sans', Arial, sans-serif" >300</text>
<line x1="985.30" y1="1286.05" x2="1418.20" y2="1286.05" stroke="#000" stroke-width="4.8" stroke-linecap="butt" />
<line x1="1089.20" y1="1286.05" x2="1089.20" y2="1307.65" stroke="#000" stroke-width="4.8" stroke-linecap="butt" />
<text x="1089.20" y="1350.60" font-size="39" font-weight="bold" font-style="normal" text-anchor="middle" fill="#000" font-family="'Liberation Sans', Arial, sans-serif" >0</text>
<line x1="1211.00" y1="1286.05" x2="1211.00" y2="1307.65" stroke="#000" stroke-width="4.8" stroke-linecap="butt" />
<text x="1211.00" y="1350.60" font-size="39" font-weight="bold" font-style="normal" text-anchor="middle" fill="#000" font-family="'Liberation Sans', Arial, sans-serif" >1</text>
<line x1="1333.90" y1="1286.05" x2="1333.90" y2="1307.65" stroke="#000" stroke-width="4.8" stroke-linecap="butt" />
<text x="1333.90" y="1350.60" font-size="39" font-weight="bold" font-style="normal" text-anchor="middle" fill="#000" font-family="'Liberation Sans', Arial, sans-serif" >2</text>
<circle cx="1056.90" cy="1282.20" r="8.0" fill="#000"/>
<circle cx="1070.10" cy="1279.00" r="8.0" fill="#000"/>
<circle cx="1083.10" cy="1281.80" r="8.0" fill="#000"/>
<circle cx="1096.20" cy="1279.80" r="8.0" fill="#000"/>
<circle cx="1109.10" cy="1284.20" r="8.0" fill="#000"/>
<circle cx="1122.60" cy="1280.30" r="8.0" fill="#000"/>
<circle cx="1211.80" cy="1162.20" r="8.0" fill="#000"/>
<circle cx="1179.50" cy="1195.40" r="8.0" fill="#000"/>
<circle cx="1211.80" cy="1192.10" r="8.0" fill="#000"/>
<circle cx="1211.80" cy="1210.40" r="8.0" fill="#000"/>
<circle cx="1244.70" cy="1206.10" r="8.0" fill="#000"/>
<circle cx="1211.80" cy="1250.20" r="8.0" fill="#000"/>
<circle cx="1195.40" cy="1277.00" r="8.0" fill="#000"/>
<circle cx="1228.30" cy="1274.80" r="8.0" fill="#000"/>
<circle cx="1334.60" cy="1009.80" r="8.0" fill="#000"/>
<circle cx="1334.60" cy="1088.60" r="8.0" fill="#000"/>
<path d="M1090.0,846.9 L1090.0,814.9 L1334.2,814.9 L1334.2,846.9" stroke="#000" stroke-width="5" fill="none" stroke-linejoin="miter"/>
<path d="M1090.0,960.6 L1090.0,929.6 L1201.0,929.6 L1201.0,960.6" stroke="#000" stroke-width="5" fill="none" stroke-linejoin="miter"/>
<path d="M1222.9,960.6 L1222.9,929.6 L1333.9,929.6 L1333.9,960.6" stroke="#000" stroke-width="5" fill="none" stroke-linejoin="miter"/>
<text x="1164.90 1196.30 1227.80 1260.10" y="803.00" font-size="48.5" font-weight="bold" font-family="'DejaVu Sans', sans-serif" text-anchor="middle" stroke="#000" stroke-width="1.6" stroke-linejoin="miter">****</text>
<text x="1145.20" y="917.80" font-size="48.5" font-weight="bold" font-family="'DejaVu Sans', sans-serif" text-anchor="middle" stroke="#000" stroke-width="1.6" stroke-linejoin="miter">*</text>
<text x="1230.50 1262.90 1294.40 1326.70" y="917.80" font-size="48.5" font-weight="bold" font-family="'DejaVu Sans', sans-serif" text-anchor="middle" stroke="#000" stroke-width="1.6" stroke-linejoin="miter">****</text>
<text transform="translate(884.30,1016.20) rotate(-90)" font-size="44.4" font-weight="bold" text-anchor="middle" fill="#000" font-family="'Liberation Sans', Arial, sans-serif">GSTT1 RNA level</text>
<text x="1211.70" y="1419.30" font-size="44.55" font-weight="bold" font-style="normal" text-anchor="middle" fill="#000" font-family="'Liberation Sans', Arial, sans-serif" >Gene copy number</text>
<path d="M1643.4,748.9899999999999 L1660.0,748.9899999999999 L1660.0,1288.45" stroke="#000" stroke-width="4.8" fill="none" stroke-linejoin="miter"/>
<line x1="1643.40" y1="1286.05" x2="1660.00" y2="1286.05" stroke="#000" stroke-width="4.8" stroke-linecap="butt" />
<text x="1638.30" y="1299.45" font-size="39" font-weight="bold" font-style="normal" text-anchor="end" fill="#000" font-family="'Liberation Sans', Arial, sans-serif" >0</text>
<line x1="1643.40" y1="1107.03" x2="1660.00" y2="1107.03" stroke="#000" stroke-width="4.8" stroke-linecap="butt" />
<text x="1638.30" y="1120.43" font-size="39" font-weight="bold" font-style="normal" text-anchor="end" fill="#000" font-family="'Liberation Sans', Arial, sans-serif" >100</text>
<line x1="1643.40" y1="928.01" x2="1660.00" y2="928.01" stroke="#000" stroke-width="4.8" stroke-linecap="butt" />
<text x="1638.30" y="941.41" font-size="39" font-weight="bold" font-style="normal" text-anchor="end" fill="#000" font-family="'Liberation Sans', Arial, sans-serif" >200</text>
<line x1="1643.40" y1="748.99" x2="1660.00" y2="748.99" stroke="#000" stroke-width="4.8" stroke-linecap="butt" />
<text x="1638.30" y="762.39" font-size="39" font-weight="bold" font-style="normal" text-anchor="end" fill="#000" font-family="'Liberation Sans', Arial, sans-serif" >300</text>
<line x1="1643.40" y1="1286.05" x2="2028.00" y2="1286.05" stroke="#000" stroke-width="4.8" stroke-linecap="butt" />
<line x1="1660.00" y1="1286.05" x2="1660.00" y2="1306.55" stroke="#000" stroke-width="4.8" stroke-linecap="butt" />
<text x="1660.00" y="1350.60" font-size="39" font-weight="bold" font-style="normal" text-anchor="middle" fill="#000" font-family="'Liberation Sans', Arial, sans-serif" >0</text>
<line x1="1751.33" y1="1286.05" x2="1751.33" y2="1306.55" stroke="#000" stroke-width="4.8" stroke-linecap="butt" />
<text x="1751.33" y="1350.60" font-size="39" font-weight="bold" font-style="normal" text-anchor="middle" fill="#000" font-family="'Liberation Sans', Arial, sans-serif" >15</text>
<line x1="1842.65" y1="1286.05" x2="1842.65" y2="1306.55" stroke="#000" stroke-width="4.8" stroke-linecap="butt" />
<text x="1842.65" y="1350.60" font-size="39" font-weight="bold" font-style="normal" text-anchor="middle" fill="#000" font-family="'Liberation Sans', Arial, sans-serif" >30</text>
<line x1="1933.97" y1="1286.05" x2="1933.97" y2="1306.55" stroke="#000" stroke-width="4.8" stroke-linecap="butt" />
<text x="1933.97" y="1350.60" font-size="39" font-weight="bold" font-style="normal" text-anchor="middle" fill="#000" font-family="'Liberation Sans', Arial, sans-serif" >45</text>
<line x1="2025.30" y1="1286.05" x2="2025.30" y2="1306.55" stroke="#000" stroke-width="4.8" stroke-linecap="butt" />
<text x="2025.30" y="1350.60" font-size="39" font-weight="bold" font-style="normal" text-anchor="middle" fill="#000" font-family="'Liberation Sans', Arial, sans-serif" >60</text>
<text transform="translate(1542.90,1010.40) rotate(-90)" font-size="45.0" font-weight="bold" text-anchor="middle" fill="#000" font-family="'Liberation Sans', Arial, sans-serif">GSTT1 RNA level</text>
<text x="1842.50" y="1419.30" font-size="45.18" font-weight="bold" font-style="normal" text-anchor="middle" fill="#000" font-family="'Liberation Sans', Arial, sans-serif" >GSTM1 RNA level</text>
<path d="M1671.10,1171.14 L1673.95,1171.82 L1676.80,1172.46 L1679.66,1173.06 L1682.51,1173.63 L1685.36,1174.17 L1688.21,1174.67 L1691.06,1175.14 L1693.92,1175.57 L1696.77,1175.97 L1699.62,1176.34 L1702.47,1176.67 L1705.33,1176.98 L1708.18,1177.25 L1711.03,1177.49 L1713.88,1177.70 L1716.73,1177.88 L1719.59,1178.03 L1722.44,1178.15 L1725.29,1178.24 L1728.14,1178.30 L1730.99,1178.33 L1733.85,1178.33 L1736.70,1178.31 L1739.55,1178.26 L1742.40,1178.18 L1745.25,1178.08 L1748.11,1177.94 L1750.96,1177.79 L1753.81,1177.61 L1756.66,1177.40 L1759.52,1177.16 L1762.37,1176.91 L1765.22,1176.63 L1768.07,1176.32 L1770.92,1175.99 L1773.78,1175.64 L1776.63,1175.27 L1779.48,1174.87 L1782.33,1174.46 L1785.18,1174.02 L1788.04,1173.56 L1790.89,1173.08 L1793.74,1172.58 L1796.59,1172.06 L1799.44,1171.52 L1802.30,1170.96 L1805.15,1170.38 L1808.00,1169.79 L1810.85,1169.17 L1813.71,1168.54 L1816.56,1167.89 L1819.41,1167.23 L1822.26,1166.55 L1825.11,1165.85 L1827.97,1165.13 L1830.82,1164.41 L1833.67,1163.66 L1836.52,1162.90 L1839.37,1162.13 L1842.23,1161.35 L1845.08,1160.55 L1847.93,1159.73 L1850.78,1158.91 L1853.63,1158.07 L1856.49,1157.22 L1859.34,1156.36 L1862.19,1155.49 L1865.04,1154.61 L1867.89,1153.72 L1870.75,1152.82 L1873.60,1151.90 L1876.45,1150.98 L1879.30,1150.05 L1882.16,1149.11 L1885.01,1148.17 L1887.86,1147.21 L1890.71,1146.25 L1893.56,1145.28 L1896.42,1144.31 L1899.27,1143.33 L1902.12,1142.34 L1904.97,1141.35 L1907.82,1140.35 L1910.68,1139.35 L1913.53,1138.34 L1916.38,1137.33 L1919.23,1136.32 L1922.08,1135.31 L1924.94,1134.29 L1927.79,1133.26 L1930.64,1132.24 L1933.49,1131.22 L1936.35,1130.19 L1939.20,1129.16 L1942.05,1128.14 L1944.90,1127.11 L1947.75,1126.08 L1950.61,1125.06 L1953.46,1124.03 L1956.31,1123.01 L1959.16,1121.99 L1962.01,1120.97 L1964.87,1119.95 L1967.72,1118.93 L1970.57,1117.92 L1973.42,1116.92 L1976.27,1115.91 L1979.13,1114.92 L1981.98,1113.92 L1984.83,1112.94 L1987.68,1111.95 L1990.54,1110.98 L1993.39,1110.01 L1996.24,1109.04 L1999.09,1108.09 L2001.94,1107.14 L2004.80,1106.20 L2007.65,1105.27 L2010.50,1104.34" stroke="#000" stroke-width="3.7" fill="none" stroke-linecap="round" stroke-dasharray="0 11.3241"/>
<path d="M1671.50,1272.95 L1672.68,1272.72 L1673.86,1272.49 L1675.04,1272.27 L1676.22,1272.05 L1677.40,1271.84 L1678.58,1271.63 L1679.76,1271.42 L1680.95,1271.23 L1682.13,1271.03 L1683.31,1270.84 L1684.49,1270.66 L1685.67,1270.48 L1686.85,1270.31 L1688.03,1270.14 L1689.21,1269.98 L1690.39,1269.82 L1691.57,1269.66 L1692.75,1269.52 L1693.93,1269.37 L1695.11,1269.23 L1696.29,1269.10 L1697.47,1268.97 L1698.66,1268.85 L1699.84,1268.73 L1701.02,1268.62 L1702.20,1268.51 L1703.38,1268.40 L1704.56,1268.31 L1705.74,1268.21 L1706.92,1268.12 L1708.10,1268.04 L1709.28,1267.96 L1710.46,1267.89 L1711.64,1267.82 L1712.82,1267.76 L1714.00,1267.70 L1715.18,1267.64 L1716.37,1267.60 L1717.55,1267.55 L1718.73,1267.51 L1719.91,1267.48 L1721.09,1267.45 L1722.27,1267.43 L1723.45,1267.41 L1724.63,1267.40 L1725.81,1267.39 L1726.99,1267.38 L1728.17,1267.39 L1729.35,1267.39 L1730.53,1267.40 L1731.71,1267.42 L1732.89,1267.44 L1734.08,1267.47 L1735.26,1267.50 L1736.44,1267.54 L1737.62,1267.58 L1738.80,1267.63 L1739.98,1267.68 L1741.16,1267.73 L1742.34,1267.80 L1743.52,1267.86 L1744.70,1267.93 L1745.88,1268.01 L1747.06,1268.09 L1748.24,1268.18 L1749.42,1268.27 L1750.61,1268.37 L1751.79,1268.47 L1752.97,1268.57 L1754.15,1268.69 L1755.33,1268.80 L1756.51,1268.92 L1757.69,1269.05 L1758.87,1269.18 L1760.05,1269.32 L1761.23,1269.46 L1762.41,1269.61 L1763.59,1269.76 L1764.77,1269.92 L1765.95,1270.08 L1767.13,1270.24 L1768.32,1270.42 L1769.50,1270.59 L1770.68,1270.77 L1771.86,1270.96 L1773.04,1271.15 L1774.22,1271.35 L1775.40,1271.55 L1776.58,1271.76 L1777.76,1271.97 L1778.94,1272.18 L1780.12,1272.41 L1781.30,1272.63 L1782.48,1272.86 L1783.66,1273.10 L1784.84,1273.34 L1786.03,1273.59 L1787.21,1273.84 L1788.39,1274.10 L1789.57,1274.36 L1790.75,1274.63 L1791.93,1274.90 L1793.11,1275.17 L1794.29,1275.46 L1795.47,1275.74 L1796.65,1276.03 L1797.83,1276.33 L1799.01,1276.63 L1800.19,1276.94 L1801.37,1277.25 L1802.55,1277.57 L1803.74,1277.89 L1804.92,1278.22 L1806.10,1278.55 L1807.28,1278.88 L1808.46,1279.23 L1809.64,1279.57 L1810.82,1279.92 L1812.00,1280.28" stroke="#000" stroke-width="3.7" fill="none" stroke-linecap="round" stroke-dasharray="0 10.9353"/>
<line x1="1662.10" y1="1221.40" x2="2015.60" y2="1227.60" stroke="#000" stroke-width="4.8" stroke-linecap="butt" />
<circle cx="1660.00" cy="1010.10" r="8.0" fill="#000"/>
<circle cx="1660.00" cy="1088.60" r="8.0" fill="#000"/>
<circle cx="1679.30" cy="1163.00" r="8.0" fill="#000"/>
<circle cx="1820.80" cy="1196.20" r="8.0" fill="#000"/>
<circle cx="1868.40" cy="1206.60" r="8.0" fill="#000"/>
<circle cx="2015.60" cy="1192.40" r="8.0" fill="#000"/>
<circle cx="1660.40" cy="1210.70" r="8.0" fill="#000"/>
<circle cx="1660.40" cy="1251.00" r="8.0" fill="#000"/>
<circle cx="1672.40" cy="1275.70" r="8.0" fill="#000"/>
<circle cx="1660.40" cy="1279.00" r="8.0" fill="#000"/>
<circle cx="1660.40" cy="1284.70" r="8.0" fill="#000"/>
<circle cx="1822.40" cy="1282.20" r="8.0" fill="#000"/>
<circle cx="1876.20" cy="1279.80" r="8.0" fill="#000"/>
<text x="745.30" y="1543.90" font-size="100" font-weight="bold" font-style="normal" text-anchor="start" fill="#000" font-family="'Liberation Sans', Arial, sans-serif" >d</text>
<text x="871.90" y="1518.30" font-size="32" letter-spacing="2.15" fill="#ff0000" font-family="'Liberation Mono', 'Courier New', monospace" text-anchor="start">Variant</text>
<text x="1115.00" y="1518.30" font-size="32" letter-spacing="0" fill="#ff0000" font-family="'Liberation Mono', 'Courier New', monospace" text-anchor="middle">A</text>
<path d="M1062.6,1568.5 C1062.6,1546.0 1063.6,1550.0 1071.6,1550.0 L1106.0,1550.0 C1112.0,1550.0 1115.0,1547.0 1115.0,1531.9 C1115.0,1547.0 1118.0,1550.0 1124.0,1550.0 L1159.0,1550.0 C1167.0,1550.0 1168.0,1546.0 1168.0,1568.5" stroke="#3a3a3a" stroke-width="1.8" fill="none" />
<rect x="1067.20" y="1575.80" width="37.60" height="278.50" fill="#d1cfd2" stroke="#2e3e4e" stroke-width="1.5" />
<rect x="1066.45" y="1644.30" width="39.10" height="30.50" fill="#629dfd" stroke="none" stroke-width="0" />
<polygon points="1093.78,1795.51 1086.00,1787.73 1078.22,1795.51 1068.89,1786.18 1076.67,1778.40 1068.89,1770.62 1078.22,1761.29 1086.00,1769.07 1093.78,1761.29 1103.11,1770.62 1095.33,1778.40 1103.11,1786.18" fill="#ff0000" stroke="#5a5a5a" stroke-width="1.3" stroke-linejoin="miter"/>
<rect x="1126.00" y="1575.80" width="37.60" height="278.50" fill="#d1cfd2" stroke="#2e3e4e" stroke-width="1.5" />
<rect x="1125.25" y="1644.30" width="39.10" height="30.50" fill="#629dfd" stroke="none" stroke-width="0" />
<polygon points="1152.58,1795.51 1144.80,1787.73 1137.02,1795.51 1127.69,1786.18 1135.47,1778.40 1127.69,1770.62 1137.02,1761.29 1144.80,1769.07 1152.58,1761.29 1161.91,1770.62 1154.13,1778.40 1161.91,1786.18" fill="#ff0000" stroke="#5a5a5a" stroke-width="1.3" stroke-linejoin="miter"/>
<text x="1286.10" y="1518.30" font-size="32" letter-spacing="0" fill="#ff0000" font-family="'Liberation Mono', 'Courier New', monospace" text-anchor="middle">B</text>
<path d="M1237.6999999999998,1568.5 C1237.6999999999998,1546.0 1238.6999999999998,1550.0 1246.6999999999998,1550.0 L1281.1,1550.0 C1287.1,1550.0 1290.1,1547.0 1290.1,1531.9 C1290.1,1547.0 1293.1,1550.0 1299.1,1550.0 L1334.1,1550.0 C1342.1,1550.0 1343.1,1546.0 1343.1,1568.5" stroke="#3a3a3a" stroke-width="1.8" fill="none" />
<rect x="1242.70" y="1575.80" width="37.60" height="278.50" fill="#d1cfd2" stroke="#2e3e4e" stroke-width="1.5" />
<rect x="1241.95" y="1644.30" width="39.10" height="30.50" fill="#629dfd" stroke="none" stroke-width="0" />
<polygon points="1269.28,1795.51 1261.50,1787.73 1253.72,1795.51 1244.39,1786.18 1252.17,1778.40 1244.39,1770.62 1253.72,1761.29 1261.50,1769.07 1269.28,1761.29 1278.61,1770.62 1270.83,1778.40 1278.61,1786.18" fill="#ff0000" stroke="#5a5a5a" stroke-width="1.3" stroke-linejoin="miter"/>
<rect x="1301.50" y="1575.80" width="37.60" height="278.50" fill="#000000" stroke="#2e3e4e" stroke-width="1.5" />
<rect x="1300.75" y="1644.30" width="39.10" height="30.50" fill="#629dfd" stroke="none" stroke-width="0" />
<rect x="1300.75" y="1763.70" width="39.10" height="31.30" fill="#629dfd" stroke="none" stroke-width="0" />
<text x="1457.20" y="1518.30" font-size="32" letter-spacing="0" fill="#ff0000" font-family="'Liberation Mono', 'Courier New', monospace" text-anchor="middle">C</text>
<path d="M1409.1,1568.5 C1409.1,1546.0 1410.1,1550.0 1418.1,1550.0 L1452.5,1550.0 C1458.5,1550.0 1461.5,1547.0 1461.5,1531.9 C1461.5,1547.0 1464.5,1550.0 1470.5,1550.0 L1505.5,1550.0 C1513.5,1550.0 1514.5,1546.0 1514.5,1568.5" stroke="#3a3a3a" stroke-width="1.8" fill="none" />
<rect x="1414.20" y="1575.80" width="37.60" height="278.50" fill="#d1cfd2" stroke="#2e3e4e" stroke-width="1.5" />
<rect x="1413.45" y="1644.30" width="39.10" height="30.50" fill="#629dfd" stroke="none" stroke-width="0" />
<polygon points="1440.78,1795.51 1433.00,1787.73 1425.22,1795.51 1415.89,1786.18 1423.67,1778.40 1415.89,1770.62 1425.22,1761.29 1433.00,1769.07 1440.78,1761.29 1450.11,1770.62 1442.33,1778.40 1450.11,1786.18" fill="#ff0000" stroke="#5a5a5a" stroke-width="1.3" stroke-linejoin="miter"/>
<rect x="1473.00" y="1575.80" width="37.60" height="278.50" fill="#ffffff" stroke="#2e3e4e" stroke-width="1.5" />
<rect x="1472.25" y="1644.30" width="39.10" height="30.50" fill="#629dfd" stroke="none" stroke-width="0" />
<rect x="1472.25" y="1763.70" width="39.10" height="31.30" fill="#629dfd" stroke="none" stroke-width="0" />
<text x="1627.50" y="1518.30" font-size="32" letter-spacing="0" fill="#ff0000" font-family="'Liberation Mono', 'Courier New', monospace" text-anchor="middle">D</text>
<path d="M1578.8999999999999,1568.5 C1578.8999999999999,1546.0 1579.8999999999999,1550.0 1587.8999999999999,1550.0 L1622.3,1550.0 C1628.3,1550.0 1631.3,1547.0 1631.3,1531.9 C1631.3,1547.0 1634.3,1550.0 1640.3,1550.0 L1675.3,1550.0 C1683.3,1550.0 1684.3,1546.0 1684.3,1568.5" stroke="#3a3a3a" stroke-width="1.8" fill="none" />
<rect x="1583.40" y="1575.80" width="37.60" height="278.50" fill="#000000" stroke="#2e3e4e" stroke-width="1.5" />
<rect x="1582.65" y="1644.30" width="39.10" height="30.50" fill="#629dfd" stroke="none" stroke-width="0" />
<rect x="1582.65" y="1763.70" width="39.10" height="31.30" fill="#629dfd" stroke="none" stroke-width="0" />
<rect x="1642.20" y="1575.80" width="37.60" height="278.50" fill="#ffffff" stroke="#2e3e4e" stroke-width="1.5" />
<rect x="1641.45" y="1644.30" width="39.10" height="30.50" fill="#629dfd" stroke="none" stroke-width="0" />
<rect x="1641.45" y="1763.70" width="39.10" height="31.30" fill="#629dfd" stroke="none" stroke-width="0" />
<text x="1798.40" y="1518.30" font-size="32" letter-spacing="0" fill="#ff0000" font-family="'Liberation Mono', 'Courier New', monospace" text-anchor="middle">E</text>
<path d="M1747.0,1568.5 C1747.0,1546.0 1748.0,1550.0 1756.0,1550.0 L1790.4,1550.0 C1796.4,1550.0 1799.4,1547.0 1799.4,1531.9 C1799.4,1547.0 1802.4,1550.0 1808.4,1550.0 L1843.4,1550.0 C1851.4,1550.0 1852.4,1546.0 1852.4,1568.5" stroke="#3a3a3a" stroke-width="1.8" fill="none" />
<rect x="1752.10" y="1575.80" width="37.60" height="278.50" fill="#ffffff" stroke="#2e3e4e" stroke-width="1.5" />
<rect x="1751.35" y="1644.30" width="39.10" height="30.50" fill="#629dfd" stroke="none" stroke-width="0" />
<rect x="1751.35" y="1763.70" width="39.10" height="31.30" fill="#629dfd" stroke="none" stroke-width="0" />
<rect x="1810.90" y="1575.80" width="37.60" height="278.50" fill="#ffffff" stroke="#2e3e4e" stroke-width="1.5" />
<rect x="1810.15" y="1644.30" width="39.10" height="30.50" fill="#629dfd" stroke="none" stroke-width="0" />
<rect x="1810.15" y="1763.70" width="39.10" height="31.30" fill="#629dfd" stroke="none" stroke-width="0" />
<text x="1970.50" y="1518.30" font-size="32" letter-spacing="0" fill="#ff0000" font-family="'Liberation Mono', 'Courier New', monospace" text-anchor="middle">F</text>
<path d="M1915.8,1568.5 C1915.8,1546.0 1916.8,1550.0 1924.8,1550.0 L1959.2,1550.0 C1965.2,1550.0 1968.2,1547.0 1968.2,1531.9 C1968.2,1547.0 1971.2,1550.0 1977.2,1550.0 L2012.2,1550.0 C2020.2,1550.0 2021.2,1546.0 2021.2,1568.5" stroke="#3a3a3a" stroke-width="1.8" fill="none" />
<rect x="1920.80" y="1575.80" width="37.60" height="278.50" fill="#000000" stroke="#2e3e4e" stroke-width="1.5" />
<rect x="1920.05" y="1644.30" width="39.10" height="30.50" fill="#629dfd" stroke="none" stroke-width="0" />
<rect x="1920.05" y="1763.70" width="39.10" height="31.30" fill="#629dfd" stroke="none" stroke-width="0" />
<rect x="1979.60" y="1575.80" width="37.60" height="278.50" fill="#000000" stroke="#2e3e4e" stroke-width="1.5" />
<rect x="1978.85" y="1644.30" width="39.10" height="30.50" fill="#629dfd" stroke="none" stroke-width="0" />
<rect x="1978.85" y="1763.70" width="39.10" height="31.30" fill="#629dfd" stroke="none" stroke-width="0" />
<text x="917.70" y="1668.40" font-size="32.2" font-weight="bold" font-style="italic" text-anchor="start" fill="#0000c8" font-family="'Liberation Sans', Arial, sans-serif" stroke="#fff" stroke-width="0.8">GSTM2 -</text>
<text x="917.70" y="1785.50" font-size="32.2" font-weight="bold" font-style="italic" text-anchor="start" fill="#0000c8" font-family="'Liberation Sans', Arial, sans-serif" stroke="#fff" stroke-width="0.8">GSTM1 -</text>
<text x="729.70" y="1913.80" font-size="32" letter-spacing="2.15" fill="#000" font-family="'Liberation Mono', 'Courier New', monospace" text-anchor="start">Copies of GSTM2</text>
<text x="729.70" y="1956.30" font-size="32" letter-spacing="2.15" fill="#000" font-family="'Liberation Mono', 'Courier New', monospace" text-anchor="start">Copies of GSTM1</text>
<text x="729.70" y="1999.80" font-size="32" letter-spacing="2.15" fill="#ff0000" font-family="'Liberation Mono', 'Courier New', monospace" text-anchor="start">Number of tumors</text>
<text x="1118.80" y="1913.80" font-size="32" letter-spacing="0" fill="#000" font-family="'Liberation Mono', 'Courier New', monospace" text-anchor="middle">2</text>
<text x="1289.70" y="1913.80" font-size="32" letter-spacing="0" fill="#000" font-family="'Liberation Mono', 'Courier New', monospace" text-anchor="middle">1</text>
<text x="1461.00" y="1913.80" font-size="32" letter-spacing="0" fill="#000" font-family="'Liberation Mono', 'Courier New', monospace" text-anchor="middle">2</text>
<text x="1631.80" y="1913.80" font-size="32" letter-spacing="0" fill="#000" font-family="'Liberation Mono', 'Courier New', monospace" text-anchor="middle">1</text>
<text x="1803.10" y="1913.80" font-size="32" letter-spacing="0" fill="#000" font-family="'Liberation Mono', 'Courier New', monospace" text-anchor="middle">2</text>
<text x="1973.90" y="1913.80" font-size="32" letter-spacing="0" fill="#000" font-family="'Liberation Mono', 'Courier New', monospace" text-anchor="middle">0</text>
<text x="1118.80" y="1956.30" font-size="32" letter-spacing="0" fill="#000" font-family="'Liberation Mono', 'Courier New', monospace" text-anchor="middle">0</text>
<text x="1289.70" y="1956.30" font-size="32" letter-spacing="0" fill="#000" font-family="'Liberation Mono', 'Courier New', monospace" text-anchor="middle">0</text>
<text x="1461.00" y="1956.30" font-size="32" letter-spacing="0" fill="#000" font-family="'Liberation Mono', 'Courier New', monospace" text-anchor="middle">1</text>
<text x="1631.80" y="1956.30" font-size="32" letter-spacing="0" fill="#000" font-family="'Liberation Mono', 'Courier New', monospace" text-anchor="middle">1</text>
<text x="1803.10" y="1956.30" font-size="32" letter-spacing="0" fill="#000" font-family="'Liberation Mono', 'Courier New', monospace" text-anchor="middle">2</text>
<text x="1973.90" y="1956.30" font-size="32" letter-spacing="0" fill="#000" font-family="'Liberation Mono', 'Courier New', monospace" text-anchor="middle">0</text>
<text x="1118.80" y="1999.80" font-size="32" letter-spacing="0" fill="#ff0000" font-family="'Liberation Mono', 'Courier New', monospace" text-anchor="middle">1</text>
<text x="1289.70" y="1999.80" font-size="32" letter-spacing="0" fill="#ff0000" font-family="'Liberation Mono', 'Courier New', monospace" text-anchor="middle">8</text>
<text x="1461.00" y="1999.80" font-size="32" letter-spacing="0" fill="#ff0000" font-family="'Liberation Mono', 'Courier New', monospace" text-anchor="middle">3</text>
<text x="1631.80" y="1999.80" font-size="32" letter-spacing="0" fill="#ff0000" font-family="'Liberation Mono', 'Courier New', monospace" text-anchor="middle">4</text>
<text x="1803.10" y="1999.80" font-size="32" letter-spacing="0" fill="#ff0000" font-family="'Liberation Mono', 'Courier New', monospace" text-anchor="middle">0</text>
<text x="1973.90" y="1999.80" font-size="32" letter-spacing="0" fill="#ff0000" font-family="'Liberation Mono', 'Courier New', monospace" text-anchor="middle">0</text>
</svg></body></html>
